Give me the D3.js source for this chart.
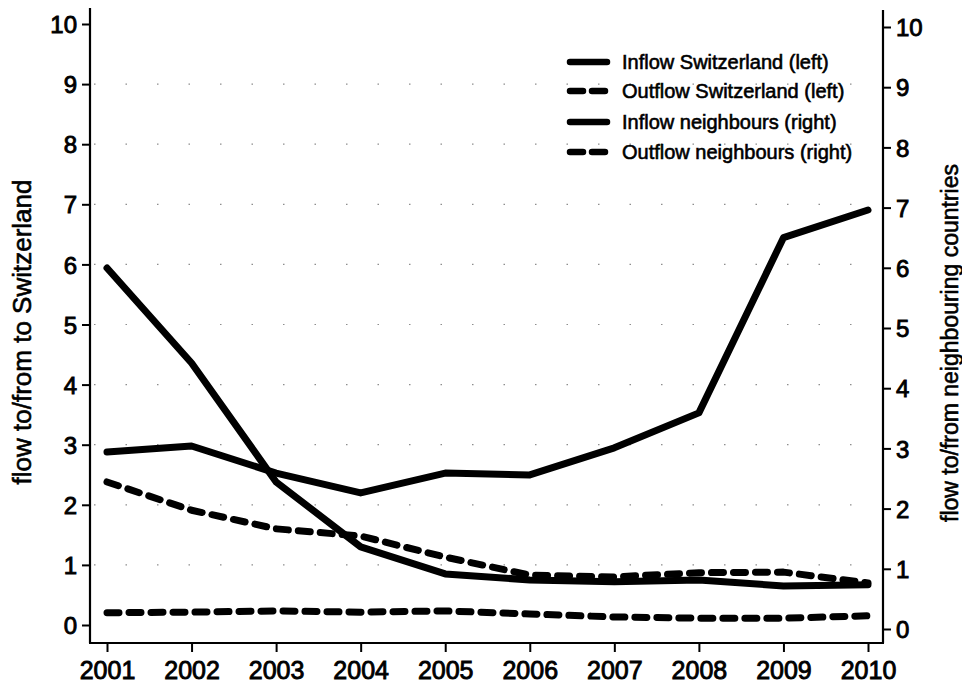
<!DOCTYPE html>
<html>
<head>
<meta charset="utf-8">
<script src="https://cdn.jsdelivr.net/npm/d3@7/dist/d3.min.js"></script>
<style>
  html, body { margin: 0; padding: 0; background: #fff; }
  svg { display: block; }
  text { font-family: "Liberation Sans", Arial, Helvetica, sans-serif; fill: #000; }
</style>
</head>
<body>
<svg id="chart" width="962" height="687"></svg>
<script>
// ---- data ----
const years = [2001, 2002, 2003, 2004, 2005, 2006, 2007, 2008, 2009, 2010];
const inflowSwitzerland  = [5.94, 4.36, 2.38, 1.30, 0.85, 0.75, 0.72, 0.75, 0.65, 0.67];
const outflowSwitzerland = [2.38, 1.91, 1.60, 1.48, 1.13, 0.83, 0.80, 0.87, 0.88, 0.70];
const inflowNeighbours   = [2.94, 3.04, 2.59, 2.26, 2.59, 2.56, 3.01, 3.59, 6.50, 6.96];
const outflowNeighbours  = [0.27, 0.28, 0.30, 0.28, 0.30, 0.25, 0.20, 0.18, 0.18, 0.22];
const yTicks = [0, 1, 2, 3, 4, 5, 6, 7, 8, 9, 10];
const legendLabels = ["Inflow Switzerland (left)", "Outflow Switzerland (left)",
                      "Inflow neighbours (right)", "Outflow neighbours (right)"];

const series = [
  { name: legendLabels[0], values: inflowSwitzerland,  axis: "left",  dashed: false },
  { name: legendLabels[1], values: outflowSwitzerland, axis: "left",  dashed: true },
  { name: legendLabels[2], values: inflowNeighbours,   axis: "right", dashed: false },
  { name: legendLabels[3], values: outflowNeighbours,  axis: "right", dashed: true }
];

// ---- layout ----
const svg = d3.select("#chart");
const plotLeft = 90, plotRight = 883, plotBottom = 643, plotTop = 8;

const x = d3.scalePoint().domain(years).range([107, 868]);
const yL = d3.scaleLinear().domain([0, 10]).range([625, 24]);
const yR = d3.scaleLinear().domain([0, 10]).range([629, 27]);

// faint dotted gridlines
const grid = svg.append("g");
grid.selectAll("line").data(yTicks.filter(d => d > 0 && d < 10)).join("line")
  .attr("x1", plotLeft + 4).attr("x2", plotRight - 4)
  .attr("y1", d => yL(d)).attr("y2", d => yL(d))
  .attr("stroke", "#444").attr("stroke-width", 1.2)
  .attr("stroke-dasharray", "1.5,30").attr("opacity", 0.6);

// left axis
const axL = svg.append("g").attr("transform", `translate(${plotLeft},0)`)
  .call(d3.axisLeft(yL).tickValues(yTicks).tickFormat(d3.format("d")).tickSize(8).tickPadding(5));
axL.select(".domain").remove();
axL.append("line").attr("x1", 0).attr("x2", 0).attr("y1", plotTop).attr("y2", plotBottom)
  .attr("stroke", "#000").attr("stroke-width", 2.2);
axL.selectAll(".tick line").attr("stroke", "#000").attr("stroke-width", 2);
axL.selectAll(".tick text").attr("font-size", 24).attr("fill", "#000")
  .attr("stroke", "#000").attr("stroke-width", 0.9).attr("dy", "0.36em");

// right axis
const axR = svg.append("g").attr("transform", `translate(${plotRight},0)`)
  .call(d3.axisRight(yR).tickValues(yTicks).tickFormat(d3.format("d")).tickSize(8).tickPadding(5));
axR.select(".domain").remove();
axR.append("line").attr("x1", 0).attr("x2", 0).attr("y1", plotTop + 2).attr("y2", plotBottom)
  .attr("stroke", "#000").attr("stroke-width", 2.2);
axR.selectAll(".tick line").attr("stroke", "#000").attr("stroke-width", 2);
axR.selectAll(".tick text").attr("font-size", 24).attr("fill", "#000")
  .attr("stroke", "#000").attr("stroke-width", 0.9).attr("dy", "0.36em");

// bottom axis
const axB = svg.append("g").attr("transform", `translate(0,${plotBottom})`)
  .call(d3.axisBottom(x).tickSize(9).tickPadding(7));
axB.select(".domain").remove();
axB.append("line").attr("x1", plotLeft - 1).attr("x2", plotRight + 1).attr("y1", 0).attr("y2", 0)
  .attr("stroke", "#000").attr("stroke-width", 2.2);
axB.selectAll(".tick line").attr("stroke", "#000").attr("stroke-width", 2);
axB.selectAll(".tick text").attr("font-size", 25).attr("fill", "#000")
  .attr("stroke", "#000").attr("stroke-width", 0.9).attr("dy", "0.78em");

// axis titles
svg.append("text")
  .attr("transform", `translate(31,332) rotate(-90)`)
  .attr("text-anchor", "middle").attr("font-size", 26)
  .attr("stroke", "#000").attr("stroke-width", 0.6)
  .text("flow to/from to Switzerland");
svg.append("text")
  .attr("transform", `translate(958,343) rotate(-90)`)
  .attr("text-anchor", "middle").attr("font-size", 23)
  .attr("stroke", "#000").attr("stroke-width", 0.6)
  .text("flow to/from neighbouring countries");

// lines
const dash = "12,10";
series.forEach(s => {
  const ys = s.axis === "left" ? yL : yR;
  const line = d3.line().x((d, i) => x(years[i])).y(d => ys(d));
  svg.append("path").datum(s.values)
    .attr("d", line)
    .attr("fill", "none").attr("stroke", "#000")
    .attr("stroke-width", 7)
    .attr("stroke-linecap", "round").attr("stroke-linejoin", "round")
    .attr("stroke-dasharray", s.dashed ? dash : null);
});

// legend
const lg = svg.append("g");
const rowY = [62, 91, 122, 152];
series.forEach((s, i) => {
  lg.append("line")
    .attr("x1", 570).attr("x2", 607).attr("y1", rowY[i]).attr("y2", rowY[i])
    .attr("stroke", "#000").attr("stroke-width", 6.5)
    .attr("stroke-linecap", "round")
    .attr("stroke-dasharray", s.dashed ? "13,9" : null);
  lg.append("text")
    .attr("x", 622).attr("y", rowY[i]).attr("dy", "0.36em")
    .attr("font-size", 20).attr("stroke", "#000").attr("stroke-width", 0.6)
    .text(s.name);
});
</script>
</body>
</html>
